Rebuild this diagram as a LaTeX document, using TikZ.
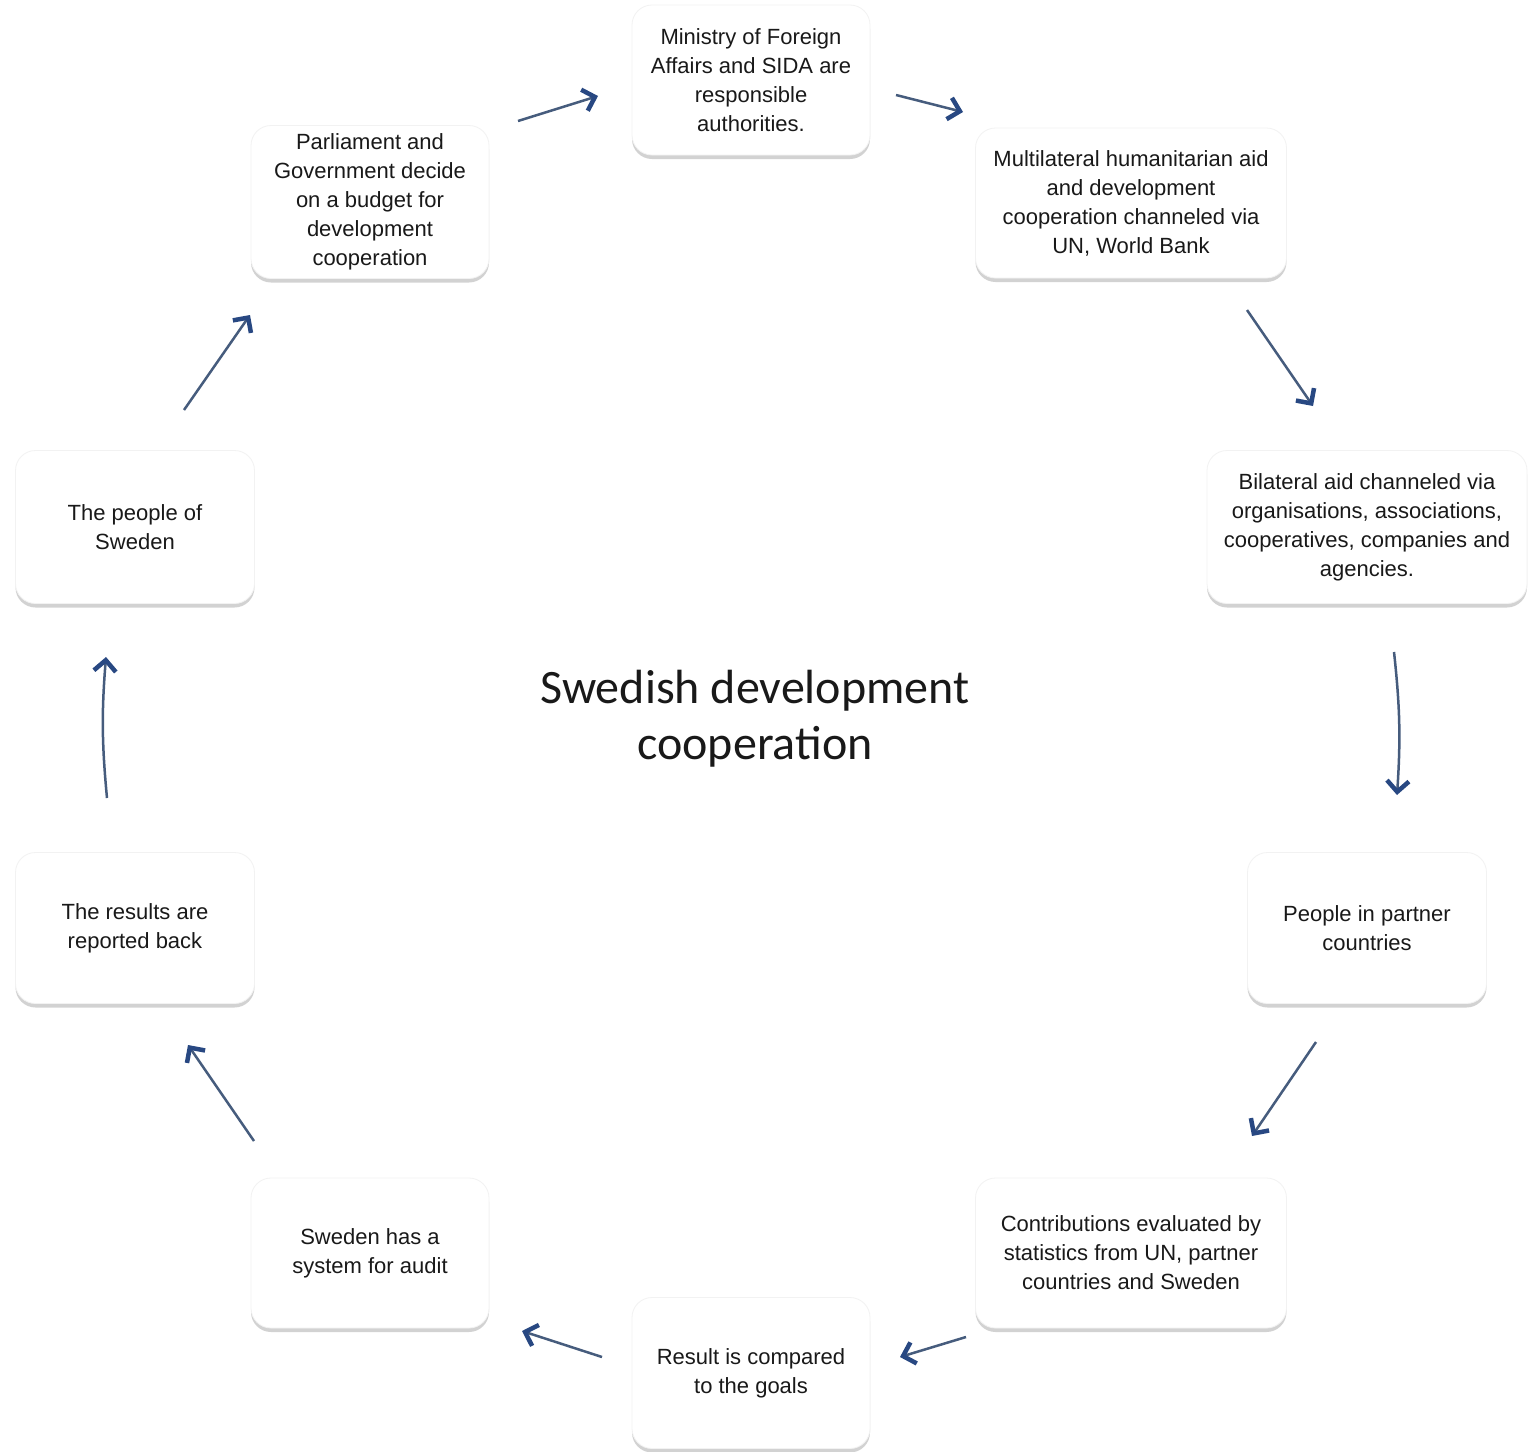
\documentclass[tikz,border=0pt]{standalone}
\usepackage{fontspec}
\newfontfamily\boxfont{Liberation Sans}
\newfontfamily\titlefont{Carlito}
\usetikzlibrary{arrows.meta,shadows}
\definecolor{shaftc}{RGB}{70,92,125}
\definecolor{tipc}{RGB}{40,72,130}
\definecolor{textc}{RGB}{25,25,25}
\begin{document}
\begin{tikzpicture}[x=1pt,y=-1pt,
  stepbox/.style={draw=black!5, line width=0.8pt, fill=white, rounded corners=20pt,
    align=center, inner sep=0pt, text=textc,
    font=\boxfont\fontsize{22}{29}\selectfont,
    drop shadow={shadow xshift=0pt, shadow yshift=-4pt, fill=black!35, opacity=0.5}},
  flow/.style={draw=shaftc, line width=2.5pt,
    -{Straight Barb[length=11pt,width=22pt,line width=4.5pt,color=tipc]}},
  titletext/.style={align=center, text=textc, font=\titlefont\fontsize{48}{56}\selectfont}]
\useasboundingbox (0,0) rectangle (1528,1451);
\fill[white] (0,0) rectangle (1528,1451);

\node[stepbox, minimum width=238pt, minimum height=150pt] (min) at (751,80)
  {Ministry of Foreign\\Affairs and SIDA are\\responsible\\authorities.};
\node[stepbox, minimum width=238pt, minimum height=153pt] (parl) at (370,202)
  {Parliament and\\Government decide\\on a budget for\\development\\cooperation};
\node[stepbox, minimum width=311pt, minimum height=150pt] (multi) at (1131,203)
  {Multilateral humanitarian aid\\and development\\cooperation channeled via\\UN, World Bank};
\node[stepbox, minimum width=320pt, minimum height=153pt] (bil) at (1367,527)
  {Bilateral aid channeled via\\organisations, associations,\\cooperatives, companies and\\agencies.};
\node[stepbox, minimum width=239pt, minimum height=153pt] (pswe) at (135,527)
  {The people of\\Sweden};
\node[stepbox, minimum width=239pt, minimum height=151pt] (ppart) at (1367,928)
  {People in partner\\countries};
\node[stepbox, minimum width=239pt, minimum height=151pt] (rep) at (135,928)
  {The results are\\reported back};
\node[stepbox, minimum width=311pt, minimum height=150pt] (contr) at (1131,1253)
  {Contributions evaluated by\\statistics from UN, partner\\countries and Sweden};
\node[stepbox, minimum width=238pt, minimum height=150pt] (audit) at (370,1253)
  {Sweden has a\\system for audit};
\node[stepbox, minimum width=238pt, minimum height=151pt] (comp) at (751,1373)
  {Result is compared\\to the goals};

\node[titletext] (title) at (755,719) {Swedish development\\cooperation};

\coordinate (a1s) at (518,121);  \coordinate (a1e) at (598,96);
\coordinate (a2s) at (896,95);   \coordinate (a2e) at (963,112);
\coordinate (a3s) at (1247,310); \coordinate (a3e) at (1313,406);
\coordinate (a4s) at (1394,652); \coordinate (a4e) at (1397,795);
\coordinate (a5s) at (1316,1042);\coordinate (a5e) at (1252,1136);
\coordinate (a6s) at (966,1337); \coordinate (a6e) at (900,1357);
\coordinate (a7s) at (602,1357); \coordinate (a7e) at (522,1331);
\coordinate (a8s) at (254,1141); \coordinate (a8e) at (188,1045);
\coordinate (a9s) at (107,798);  \coordinate (a9e) at (106,657);
\coordinate (a10s) at (184,410); \coordinate (a10e) at (250,315);

\draw[flow] (a1s) -- (a1e);
\draw[flow] (a2s) -- (a2e);
\draw[flow] (a3s) -- (a3e);
\draw[flow] (a4s) to[bend left=5] (a4e);
\draw[flow] (a5s) -- (a5e);
\draw[flow] (a6s) -- (a6e);
\draw[flow] (a7s) -- (a7e);
\draw[flow] (a8s) -- (a8e);
\draw[flow] (a9s) to[bend left=5] (a9e);
\draw[flow] (a10s) -- (a10e);
\end{tikzpicture}
\end{document}
